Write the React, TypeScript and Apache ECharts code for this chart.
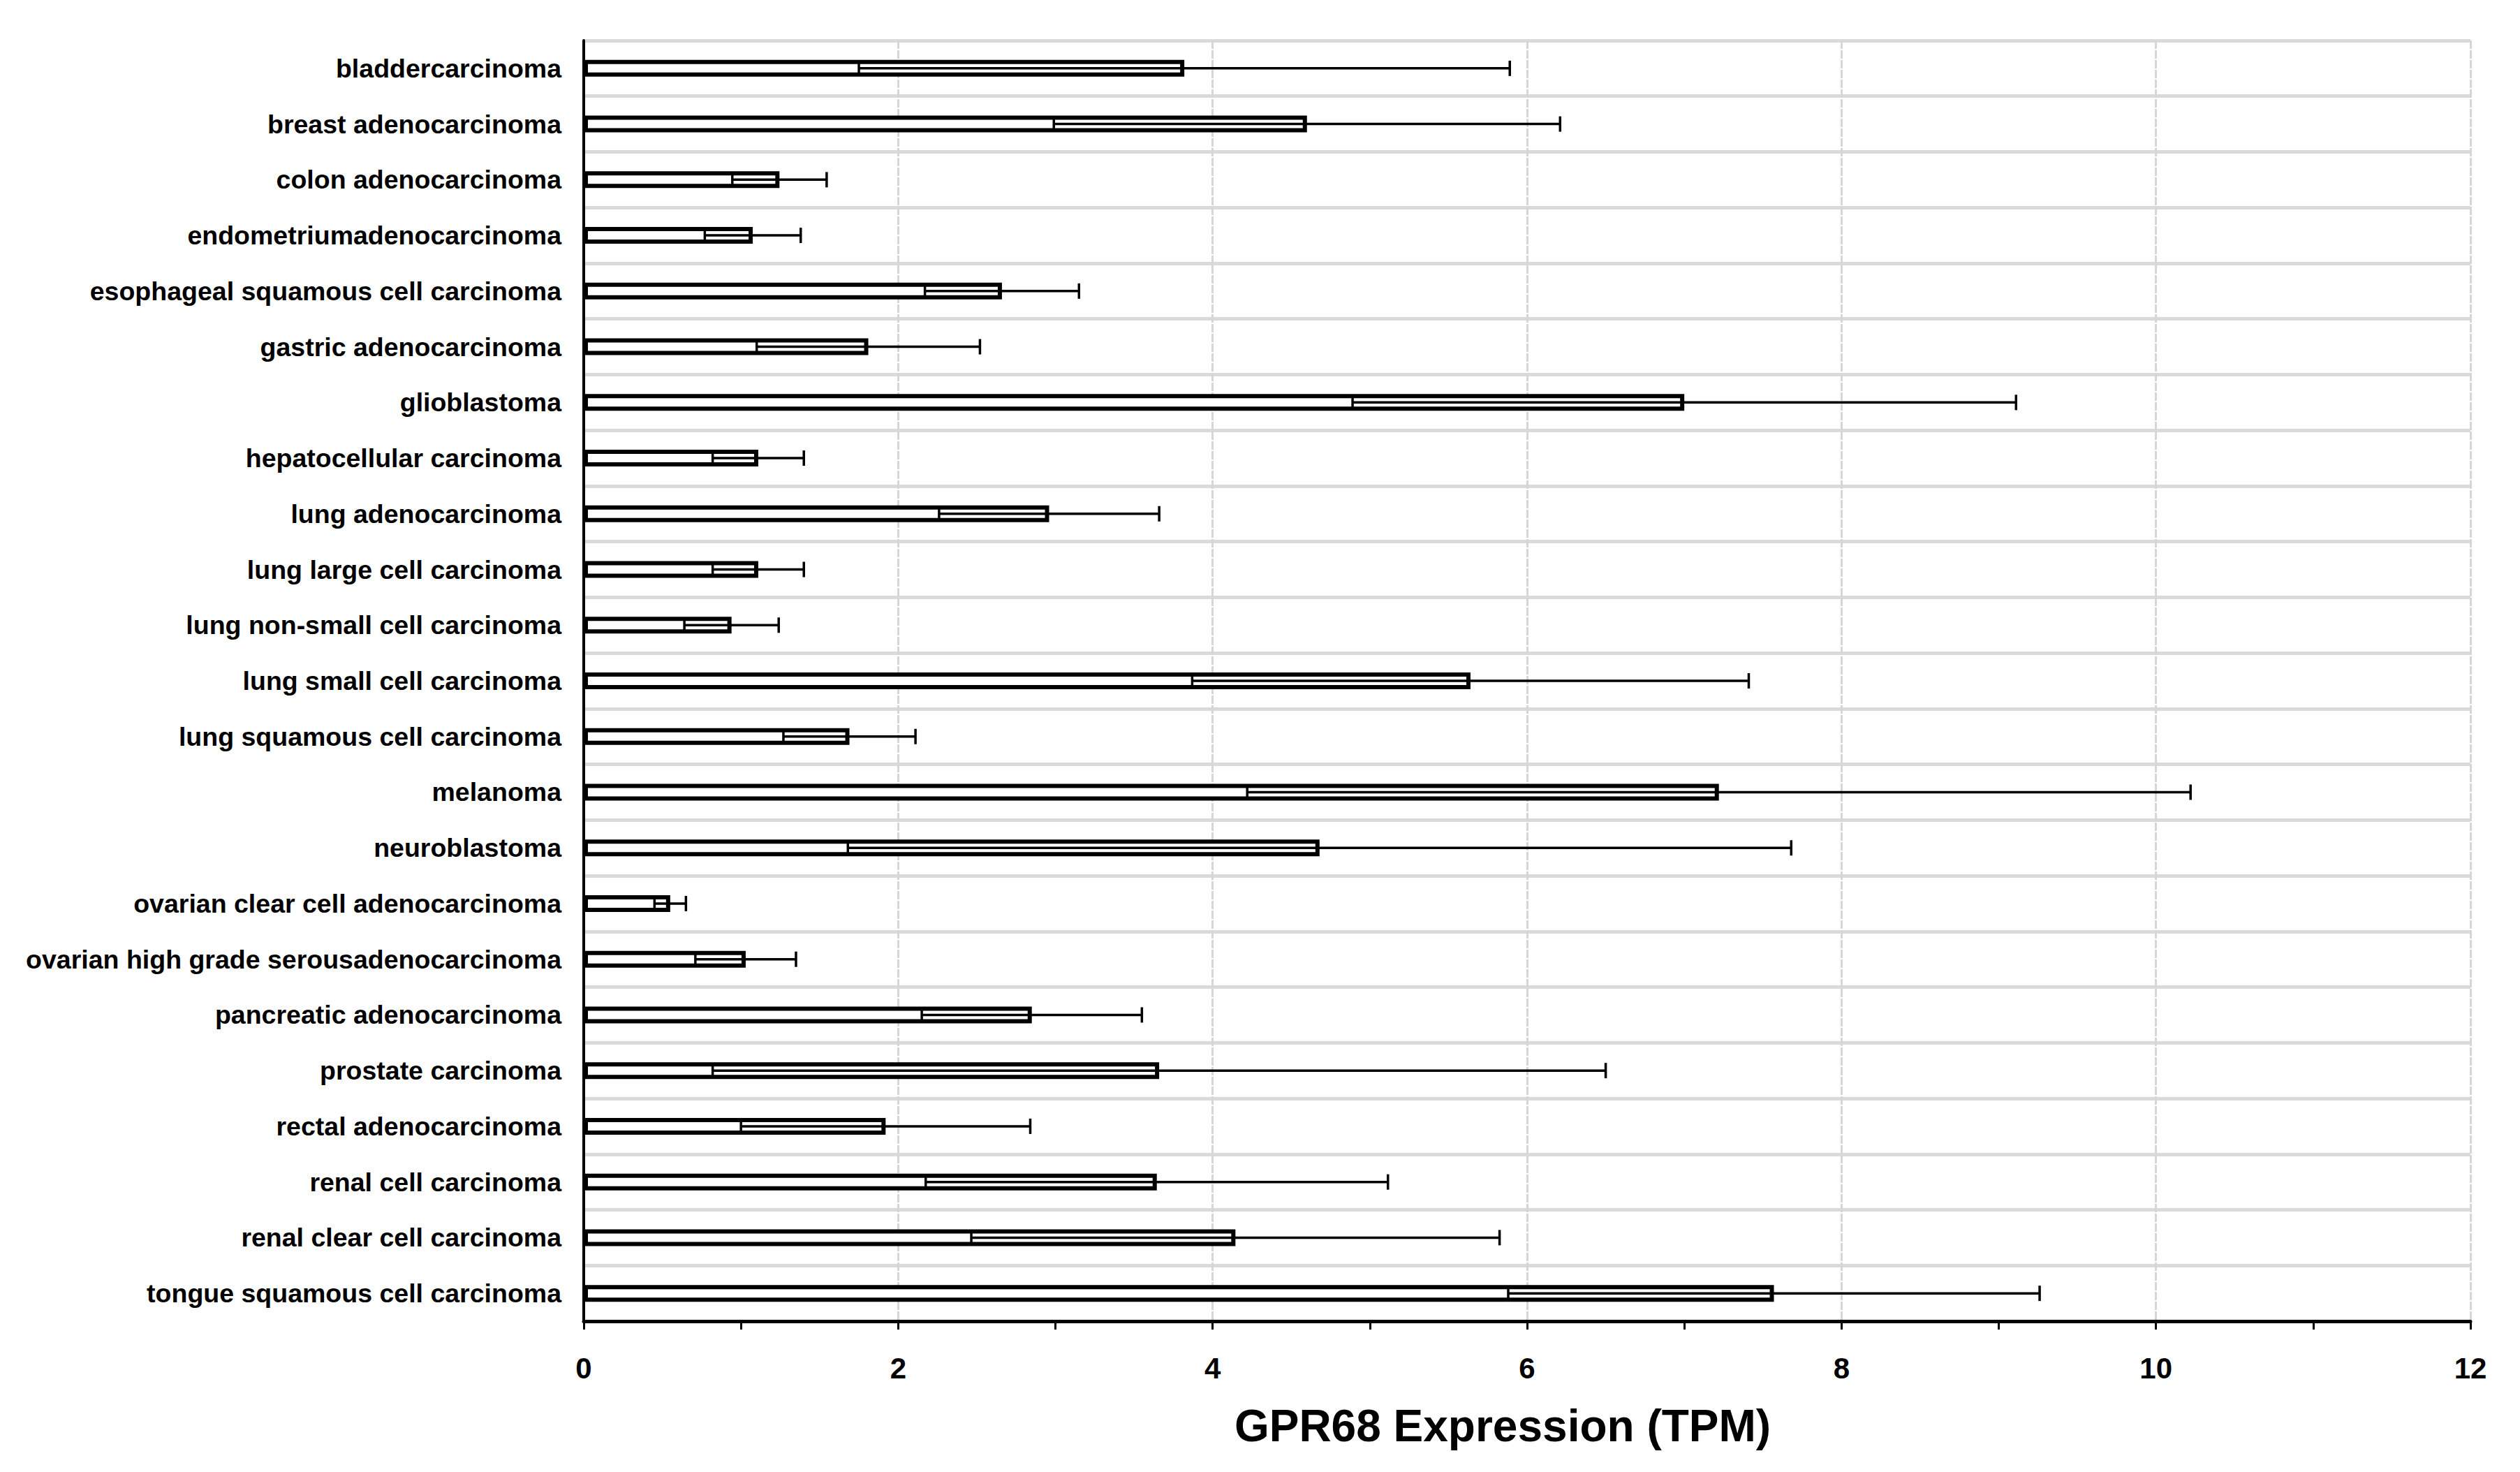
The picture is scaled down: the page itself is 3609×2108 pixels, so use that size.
import React, { useEffect, useRef } from "react";
import * as echarts from "echarts";

const categories = [
  "bladdercarcinoma",
  "breast adenocarcinoma",
  "colon adenocarcinoma",
  "endometriumadenocarcinoma",
  "esophageal squamous cell carcinoma",
  "gastric adenocarcinoma",
  "glioblastoma",
  "hepatocellular carcinoma",
  "lung adenocarcinoma",
  "lung large cell carcinoma",
  "lung non-small cell carcinoma",
  "lung small cell carcinoma",
  "lung squamous cell carcinoma",
  "melanoma",
  "neuroblastoma",
  "ovarian clear cell adenocarcinoma",
  "ovarian high grade serousadenocarcinoma",
  "pancreatic adenocarcinoma",
  "prostate carcinoma",
  "rectal adenocarcinoma",
  "renal cell carcinoma",
  "renal clear cell carcinoma",
  "tongue squamous cell carcinoma",
];

const meanTPM = [
  3.82, 4.6, 1.245, 1.075, 2.66, 1.81, 7.0, 1.11, 2.96, 1.11, 0.94, 5.64,
  1.69, 7.22, 4.68, 0.55, 1.03, 2.85, 3.66, 1.92, 3.645, 4.145, 7.57,
];

const sdTPM = [
  2.07, 1.61, 0.3, 0.305, 0.49, 0.71, 2.11, 0.29, 0.7, 0.29, 0.3, 1.77,
  0.42, 3.0, 3.0, 0.1, 0.32, 0.7, 2.84, 0.92, 1.47, 1.68, 1.69,
];

const xTickMin = 0;
const xTickMax = 12;
const xTickStep = 2;
const axisTitle = "GPR68 Expression (TPM)";

const FONT = "'Liberation Sans', Arial, Helvetica, sans-serif";

export default function App() {
  const ref = useRef<HTMLDivElement>(null);

  useEffect(() => {
    if (!ref.current) return;
    const chart = echarts.init(ref.current, null, { renderer: "svg" });

    const errData = categories.map((_, i) => [
      i,
      meanTPM[i] - sdTPM[i],
      meanTPM[i] + sdTPM[i],
    ]);

    const option: any = {
      animation: false,
      backgroundColor: "#ffffff",
      grid: { left: 836, right: 71, top: 58, bottom: 216, containLabel: false },
      xAxis: {
        type: "value",
        min: xTickMin,
        max: xTickMax,
        interval: xTickStep,
        axisLine: { show: true, lineStyle: { color: "#000", width: 5 } },
        axisTick: {
          show: true,
          length: 12,
          lineStyle: { color: "#000", width: 3 },
        },
        minorTick: {
          show: true,
          splitNumber: 2,
          length: 12,
          lineStyle: { color: "#000", width: 3 },
        },
        axisLabel: {
          margin: 46,
          fontSize: 42,
          fontWeight: "bold",
          fontFamily: FONT,
          color: "#000",
        },
        splitLine: {
          show: true,
          lineStyle: { color: "#d6d6d6", width: 3, type: [12, 2] },
        },
      },
      yAxis: {
        type: "category",
        data: categories,
        inverse: true,
        axisLine: { show: true, lineStyle: { color: "#000", width: 4 } },
        axisTick: { show: false },
        axisLabel: {
          margin: 32,
          fontSize: 37.5,
          fontWeight: "bold",
          fontFamily: FONT,
          color: "#000",
          interval: 0,
        },
        splitLine: {
          show: true,
          interval: 0,
          lineStyle: { color: "#dadada", width: 5 },
        },
      },
      series: [
        {
          type: "bar",
          data: meanTPM,
          barWidth: 24,
          itemStyle: { color: "#ffffff", borderColor: "#000000", borderWidth: 6 },
          z: 2,
        },
        {
          type: "custom",
          data: errData,
          encode: { x: [1, 2], y: 0 },
          z: 3,
          renderItem: (params: any, api: any) => {
            const idx = api.value(0);
            const lo = api.coord([api.value(1), idx]);
            const hi = api.coord([api.value(2), idx]);
            const half = 11;
            const style = { stroke: "#000", lineWidth: 3.5, fill: "none" };
            return {
              type: "group",
              children: [
                {
                  type: "line",
                  shape: { x1: lo[0], y1: lo[1], x2: hi[0], y2: hi[1] },
                  style,
                },
                {
                  type: "line",
                  shape: { x1: lo[0], y1: lo[1] - half, x2: lo[0], y2: lo[1] + half },
                  style,
                },
                {
                  type: "line",
                  shape: { x1: hi[0], y1: hi[1] - half, x2: hi[0], y2: hi[1] + half },
                  style,
                },
              ],
            };
          },
        },
      ],
      graphic: [
        {
          type: "text",
          x: 2152,
          y: 2042,
          style: {
            text: axisTitle,
            font: `bold 64px ${FONT}`,
            fill: "#000",
            textAlign: "center",
            textVerticalAlign: "middle",
          },
        },
      ],
    };

    chart.setOption(option);
    return () => chart.dispose();
  }, []);

  return (
    <div
      ref={ref}
      style={{ position: "fixed", left: 0, top: 0, width: 3609, height: 2108 }}
    />
  );
}
